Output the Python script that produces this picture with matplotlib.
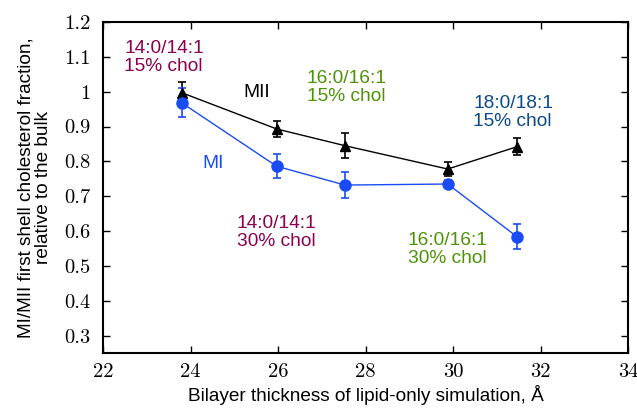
import matplotlib
matplotlib.use("Agg")
import matplotlib.pyplot as plt
from matplotlib.ticker import FuncFormatter, MultipleLocator

# bilayer thickness (A) and first-shell cholesterol fraction
thickness = [23.8, 25.97, 27.53, 29.88, 31.46]
mii = [0.997, 0.893, 0.845, 0.778, 0.842]
mii_err = [0.032, 0.022, 0.036, 0.019, 0.025]
mi = [0.968, 0.786, 0.732, 0.735, 0.584]
mi_err = [0.042, 0.034, 0.037, 0.012, 0.035]

labels = ["14:0/14:1\n15% chol", "16:0/16:1\n15% chol", "18:0/18:1\n15% chol",
          "14:0/14:1\n30% chol", "16:0/16:1\n30% chol"]
label_pos = [(22.48, 1.148), (26.66, 1.062), (30.46, 0.99), (25.06, 0.645), (28.96, 0.597)]
label_col = ["#8b0050", "#4e9208", "#0b4a8c", "#8b0050", "#4e9208"]

sans = "Liberation Sans"
fig = plt.figure(figsize=(6.37, 4.12), dpi=100)
ax = fig.add_axes([103 / 637, 1 - 353 / 412, 525 / 637, 331 / 412])

ax.errorbar(thickness, mii, yerr=mii_err, color="black", marker="^", markersize=7,
            lw=1.0, elinewidth=1.2, capsize=3, capthick=1.2)
ax.errorbar(thickness, mi, yerr=mi_err, color="#1a4cf5", marker="o", markersize=8,
            lw=1.0, elinewidth=1.2, capsize=3, capthick=1.2)

for txt, (x, y), c in zip(labels, label_pos, label_col):
    ax.text(x, y, txt, color=c, fontsize=13.8, family=sans, va="top", ha="left",
            linespacing=1.05)
ax.text(25.2, 0.999, "MII", color="black", fontsize=13.8, family=sans, va="center")
ax.text(24.26, 0.795, "MI", color="#1a4cf5", fontsize=13.8, family=sans, va="center")

ax.set_xlim(22, 34)
ax.set_ylim(0.25, 1.2)
ax.xaxis.set_major_locator(MultipleLocator(2))
ax.set_yticks([0.3, 0.4, 0.5, 0.6, 0.7, 0.8, 0.9, 1.0, 1.1, 1.2])
fmt = FuncFormatter(lambda v, p: "%g" % round(v, 2))
ax.xaxis.set_major_formatter(fmt)
ax.yaxis.set_major_formatter(fmt)
ax.tick_params(direction="in", top=True, right=True, length=5, width=1.0, pad=9)
ax.tick_params(axis="x", pad=7)
for lab in ax.get_xticklabels() + ax.get_yticklabels():
    lab.set_family("cmr10")
    lab.set_fontsize(14.8)
for s in ax.spines.values():
    s.set_linewidth(1.5)

ax.set_xlabel("Bilayer thickness of lipid-only simulation, \u00c5", family=sans,
              fontsize=13.7, labelpad=3)
ax.set_ylabel("MI/MII first shell cholesterol fraction,\nrelative to the bulk",
              family=sans, fontsize=13.7, labelpad=9, linespacing=1.0)

fig.savefig("out.png", dpi=100)
